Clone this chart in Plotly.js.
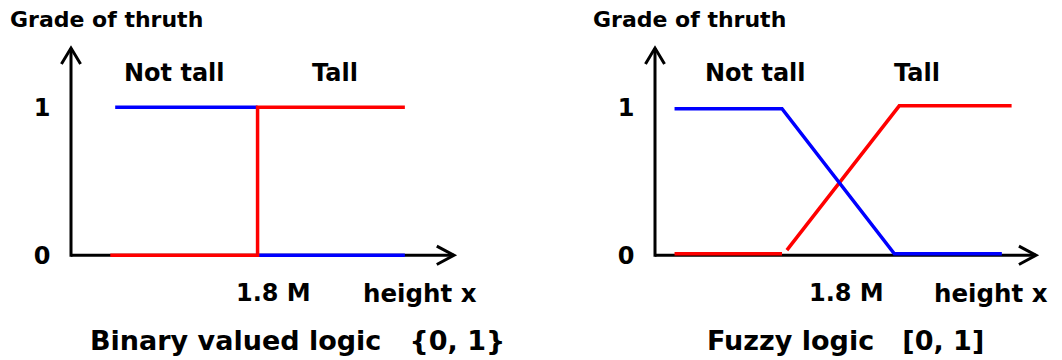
<!DOCTYPE html>
<html>
<head>
<meta charset="utf-8">
<script src="https://cdn.plot.ly/plotly-3.0.1.min.js"></script>
<style>html,body{margin:0;padding:0;background:#fff;}#chart{width:1062px;height:360px;}</style>
</head>
<body>
<div id="chart"></div>
<script>
// ---- data (height in m, grade of truth 0..1) ----
const binaryNotTallX = [1.51, 1.80, null, 1.80, 2.10];
const binaryNotTallY = [1, 1, null, 0, 0];
const binaryTallX = [1.50, 1.80, 1.80, 2.10];
const binaryTallY = [0, 0, 1, 1];

const fuzzyNotTallX = [1.46, 1.68, 1.91, 2.13];
const fuzzyNotTallY = [0.99, 0.99, 0.01, 0.01];
const fuzzyTallX = [1.46, 1.68, null, 1.69, 1.92, 2.15];
const fuzzyTallY = [0.01, 0.01, null, 0.035, 1.01, 1.01];

// ---- text ----
const yTickVals = [0, 1];
const yTickText = ['0', '1'];
const yAxisLabel = 'Grade of thruth';
const seriesNames = ['Not tall', 'Tall'];
const xMarkLabel = '1.8 M';
const xAxisLabel = 'height x';
const panelTitles = ['Binary valued logic   {0, 1}', 'Fuzzy logic   [0, 1]'];

// ---- axis geometry (data units) ----
const axisOriginX = 1.42, axisEndX = 2.20, axisEndY = 1.40;
const xRange = [1.38, 2.24], yRange = [-0.15, 1.5];

const W = 1062, H = 360;
const FONT = 'DejaVu Sans, Verdana, sans-serif';
const BLUE = '#0000ff', RED = '#ff0000';

function f(size) { return {family: FONT, size: size, color: '#000', weight: 'bold'}; }
function px(x) { return x / W; }
function py(y) { return 1 - y / H; }

const traces = [
  {x: binaryNotTallX, y: binaryNotTallY, xaxis: 'x', yaxis: 'y', mode: 'lines', line: {color: BLUE, width: 3.5}, name: seriesNames[0]},
  {x: binaryTallX, y: binaryTallY, xaxis: 'x', yaxis: 'y', mode: 'lines', line: {color: RED, width: 3.5}, name: seriesNames[1]},
  {x: fuzzyTallX, y: fuzzyTallY, xaxis: 'x2', yaxis: 'y2', mode: 'lines', line: {color: RED, width: 3.5}, name: seriesNames[1]},
  {x: fuzzyNotTallX, y: fuzzyNotTallY, xaxis: 'x2', yaxis: 'y2', mode: 'lines', line: {color: BLUE, width: 3.5}, name: seriesNames[0]}
];

function axisShapes(xr, yr) {
  const ln = {color: '#000', width: 3};
  const hx = 0.0195, ly = 0.108, lx = 0.035, hy = 0.062;
  return [
    {type: 'line', xref: xr, yref: yr, x0: axisOriginX, x1: axisOriginX, y0: -0.01, y1: axisEndY, line: ln, layer: 'below'},
    {type: 'line', xref: xr, yref: yr, x0: axisOriginX, x1: axisEndX, y0: 0, y1: 0, line: ln, layer: 'below'},
    {type: 'path', xref: xr, yref: yr, layer: 'below', line: ln,
     path: `M${axisOriginX - hx},${axisEndY - ly}L${axisOriginX},${axisEndY}L${axisOriginX + hx},${axisEndY - ly}`},
    {type: 'path', xref: xr, yref: yr, layer: 'below', line: ln,
     path: `M${axisEndX - lx},${hy}L${axisEndX},0L${axisEndX - lx},${-hy}`}
  ];
}

function ann(text, xpx, ypx, size) {
  return {text: text, xref: 'paper', yref: 'paper', x: px(xpx), y: py(ypx),
          xanchor: 'center', yanchor: 'middle', showarrow: false, font: f(size)};
}

const annotations = [
  ann(yAxisLabel, 106.5, 19.5, 22),
  ann(seriesNames[0], 174, 73.5, 24),
  ann(seriesNames[1], 335, 73.5, 24),
  ann(xMarkLabel, 273.5, 293, 24),
  ann(xAxisLabel, 420, 293, 24.5),
  ann(panelTitles[0], 297.5, 340, 27),

  ann(yAxisLabel, 689, 19.5, 22),
  ann(seriesNames[0], 755, 73.5, 24),
  ann(seriesNames[1], 917, 73.5, 24),
  ann(xMarkLabel, 846, 293, 24),
  ann(xAxisLabel, 990.5, 293, 24.5),
  ann(panelTitles[1], 845.5, 340, 27)
];

const xBase = {range: xRange, showgrid: false, zeroline: false, showline: false, showticklabels: false, ticks: '', fixedrange: true};
const yBase = {range: yRange, showgrid: false, zeroline: false, showline: false, ticks: '', fixedrange: true,
               tickmode: 'array', tickvals: yTickVals, ticktext: yTickText, showticklabels: true, tickfont: f(24)};

const yDomain = [1 - 277.5 / H, 1 - 33.3 / H];
const layout = {
  width: W, height: H, autosize: false,
  margin: {l: 0, r: 0, t: 0, b: 0, pad: 0},
  paper_bgcolor: '#fff', plot_bgcolor: 'rgba(0,0,0,0)',
  showlegend: false,
  xaxis: Object.assign({}, xBase, {domain: [51.36 / W, 473.6 / W], anchor: 'y'}),
  yaxis: Object.assign({}, yBase, {domain: yDomain, anchor: 'x'}),
  xaxis2: Object.assign({}, xBase, {domain: [635.46 / W, 1055.57 / W], anchor: 'y2'}),
  yaxis2: Object.assign({}, yBase, {domain: yDomain, anchor: 'x2'}),
  shapes: axisShapes('x', 'y').concat(axisShapes('x2', 'y2')),
  annotations: annotations
};

Plotly.newPlot('chart', traces, layout, {displayModeBar: false, staticPlot: true});
</script>
</body>
</html>
